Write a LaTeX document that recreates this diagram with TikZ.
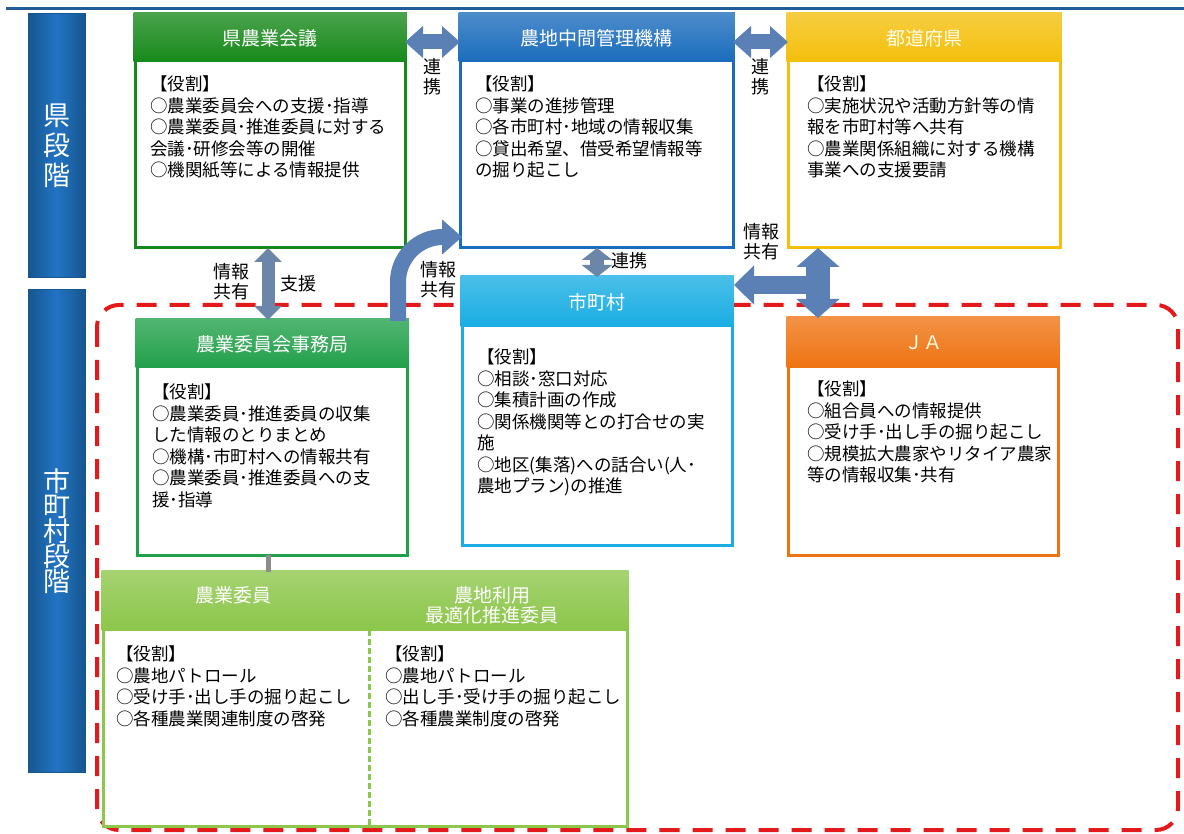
\documentclass[tikz,border=0pt]{standalone}
\usepackage{fontspec}
\setmainfont{Noto Sans CJK JP}
\usetikzlibrary{arrows.meta,calc}
\definecolor{topline}{HTML}{1F5C99}
\definecolor{barblue}{HTML}{2274C4}
\definecolor{bardark}{HTML}{17568F}
\definecolor{kaig}{HTML}{17891A}
\definecolor{kikob}{HTML}{1A6CBC}
\definecolor{prefy}{HTML}{F4BF0B}
\definecolor{jimg}{HTML}{21A04A}
\definecolor{cityc}{HTML}{19ADE3}
\definecolor{jaor}{HTML}{EF7312}
\definecolor{iing}{HTML}{8CC64A}
\definecolor{arrblue}{HTML}{5A80B6}
\definecolor{arrgray}{HTML}{6C86AA}
\definecolor{dashred}{HTML}{E31A1C}
\definecolor{linkgray}{HTML}{8C8C8C}
\newcommand{\panelhead}[3]{%
  \shade[top color=#2!78!white, bottom color=#2] ($(#1.north west)+(-1.5,-1.5)$) rectangle ($(#1.north east)+(1.5,#3)$);}
\tikzset{
  panel/.style={draw=#1, line width=3pt, fill=white, inner sep=0pt, outer sep=0pt},
  bodytext/.style={font=\fontsize{17.5}{21.5}\selectfont, align=left, inner sep=0pt, anchor=north west, text=black},
  headtext/.style={font=\fontsize{19}{22}\selectfont, text=white, inner sep=0pt, align=center},
  lbl/.style={font=\fontsize{18}{20}\selectfont, align=center, inner sep=0pt, text=black},
  stagebar/.style={draw=bardark, line width=1pt, left color=bardark, right color=bardark, middle color=barblue, minimum width=57pt, inner sep=0pt, text=white, align=center},
  linkh/.style={draw=arrblue, line width=15pt, {Triangle[width=31pt,length=18pt]}-{Triangle[width=31pt,length=18pt]}},
  linkv/.style={draw=arrgray, line width=13pt, {Triangle[width=27pt,length=14pt]}-{Triangle[width=27pt,length=14pt]}},
  linkvs/.style={draw=arrgray, line width=14pt, {Triangle[width=30pt,length=12pt]}-{Triangle[width=30pt,length=12pt]}},
  curvearrow/.style={draw=arrblue, line width=16pt, -{Triangle[width=34pt,length=20pt]}},
  tvert/.style={draw=arrblue, line width=24pt, {Triangle[width=42pt,length=19pt]}-{Triangle[width=42pt,length=19pt]}},
  thoriz/.style={draw=arrblue, line width=18pt, -{Triangle[width=38pt,length=20pt]}},
}
\begin{document}
\begin{tikzpicture}[x=1pt,y=-1pt]
\useasboundingbox (0,0) rectangle (1184,834);
\fill[white] (0,0) rectangle (1184,834);
% top rule
\draw[topline, line width=3.5pt] (6,8.5) -- (1184,8.5);
% stage bars
\node[stagebar, minimum height=264pt, font=\fontsize{27}{30}\selectfont] (stage1) at (56.5,146) {県\\段\\階};
\node[stagebar, minimum height=482pt, font=\fontsize{27}{25}\selectfont] (stage2) at (56.5,531) {市\\町\\村\\段\\階};
% red dashed area
\draw[dashred, line width=4pt, dash pattern=on 20pt off 13pt, rounded corners=22pt] (97,305) rectangle (1178,830);
% panels
\node[panel=kaig, minimum width=270pt, minimum height=234pt] (kai) at (270,131) {};
\node[panel=kikob, minimum width=273pt, minimum height=234pt] (kiko) at (596.5,131) {};
\node[panel=prefy, minimum width=272pt, minimum height=234pt] (pref) at (924,131) {};
\node[panel=jimg, minimum width=270pt, minimum height=235pt] (jim) at (272,437.5) {};
\node[panel=cityc, minimum width=270pt, minimum height=268pt] (city) at (597,411) {};
\node[panel=jaor, minimum width=270pt, minimum height=237pt] (ja) at (923,436.5) {};
\node[panel=iing, minimum width=524pt, minimum height=254pt] (iin) at (365,699) {};
% headers
\panelhead{kai}{kaig}{48}
\panelhead{kiko}{kikob}{48}
\panelhead{pref}{prefy}{48}
\panelhead{jim}{jimg}{48}
\panelhead{city}{cityc}{50}
\panelhead{ja}{jaor}{50}
\panelhead{iin}{iing}{58}
\node[headtext] (kaih) at ($(kai.north)+(0,24)$) {県農業会議};
\node[headtext] (kikoh) at ($(kiko.north)+(0,24)$) {農地中間管理機構};
\node[headtext, text=white!92!yellow] (prefh) at ($(pref.north)+(0,24)$) {都道府県};
\node[headtext] (jimh) at ($(jim.north)+(0,24)$) {農業委員会事務局};
\node[headtext] (cityh) at ($(city.north)+(0,25)$) {市町村};
\node[headtext, text=white!90!yellow] (jah) at ($(ja.north)+(0,25)$) {ＪＡ};
\node[headtext] (iinh1) at ($(iin.north west)+(130,23)$) {農業委員};
\node[headtext, font=\fontsize{19}{20}\selectfont] (iinh2) at ($(iin.north west)+(389,33)$) {農地利用\\最適化推進委員};
% divider in bottom panel
\draw[iing, line width=3pt, dash pattern=on 6pt off 3pt] ($(iin.north west)+(266,58)$) -- ($(iin.south west)+(266,0)$);
% body texts
\node[bodytext] (kait) at ($(kai.north west)+(15,61.5)$) {【役割】\\○農業委員会への支援･指導\\○農業委員･推進委員に対する\\会議･研修会等の開催\\○機関紙等による情報提供};
\node[bodytext] (kikot) at ($(kiko.north west)+(15,61.5)$) {【役割】\\○事業の進捗管理\\○各市町村･地域の情報収集\\○貸出希望、借受希望情報等\\の掘り起こし};
\node[bodytext] (preft) at ($(pref.north west)+(19,61.5)$) {【役割】\\○実施状況や活動方針等の情\\報を市町村等へ共有\\○農業関係組織に対する機構\\事業への支援要請};
\node[bodytext] (jimt) at ($(jim.north west)+(15,63.5)$) {【役割】\\○農業委員･推進委員の収集\\した情報のとりまとめ\\○機構･市町村への情報共有\\○農業委員･推進委員への支\\援･指導};
\node[bodytext] (cityt) at ($(city.north west)+(15,71.5)$) {【役割】\\○相談･窓口対応\\○集積計画の作成\\○関係機関等との打合せの実\\施\\○地区(集落)への話合い(人･\\農地プラン)の推進};
\node[bodytext] (jat) at ($(ja.north west)+(19,62.5)$) {【役割】\\○組合員への情報提供\\○受け手･出し手の掘り起こし\\○規模拡大農家やリタイア農家\\等の情報収集･共有};
\node[bodytext] (iint1) at ($(iin.north west)+(13,73.5)$) {【役割】\\○農地パトロール\\○受け手･出し手の掘り起こし\\○各種農業関連制度の啓発};
\node[bodytext] (iint2) at ($(iin.north west)+(282,73.5)$) {【役割】\\○農地パトロール\\○出し手･受け手の掘り起こし\\○各種農業制度の啓発};
% connectors
\draw[linkgray, line width=5pt] ($(jim.south west)+(131,0)$) -- ($(iin.north west)+(165,0)$);
\draw[linkh] ($(kai.north east)+(0,28)$) -- ($(kiko.north west)+(0,28)$);
\draw[linkh] ($(kiko.north east)+(0,28)$) -- ($(pref.north west)+(0,28)$);
\draw[linkv] ($(kai.south west)+(133,0)$) -- ($(jim.north west)+(131,0)$);
\draw[linkvs] ($(kiko.south west)+(137,0)$) -- ($(city.north west)+(135,0)$);
\draw[curvearrow] ($(jim.north east)+(-9,1)$) -- ++(0,-39) arc[start angle=180, end angle=270, radius=45] -- ($(kiko.south west)+(2,-11)$);
\draw[thoriz] ($(pref.south west)+(30,37)$) -- ($(city.north east)+(2,8)$);
\draw[tvert] ($(pref.south west)+(30,0)$) -- ($(ja.north west)+(30,0)$);
% labels
\node[lbl] (l1) at ($(kai.north east)!0.5!(kiko.north west)+(0,63)$) {連\\携};
\node[lbl] (l2) at ($(kiko.north east)!0.5!(pref.north west)+(0,63)$) {連\\携};
\node[lbl] (l3) at ($(kai.south west)+(96,34)$) {情報\\共有};
\node[lbl] (l4) at ($(kai.south west)+(163,36)$) {支援};
\node[lbl] (l5) at ($(jim.north west)+(301,-40)$) {情報\\共有};
\node[lbl] (l6) at ($(kiko.south west)+(169,13)$) {連携};
\node[lbl] (l7) at ($(pref.south west)+(-27,-6)$) {情報\\共有};
\end{tikzpicture}
\end{document}
